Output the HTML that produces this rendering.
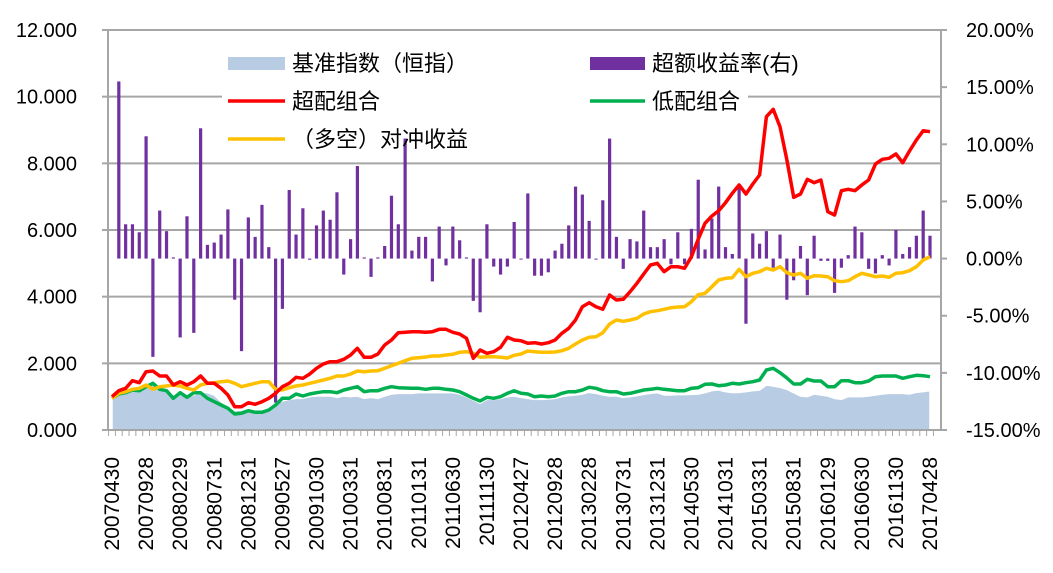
<!DOCTYPE html>
<html><head><meta charset="utf-8">
<style>
html,body{margin:0;padding:0;background:#fff;}
svg{display:block;font-family:"Liberation Sans","Noto Sans CJK SC",sans-serif;}
</style></head>
<body>
<svg id="chart" width="1053" height="573" viewBox="0 0 1053 573" xmlns="http://www.w3.org/2000/svg">
<g id="grid"></g>
<rect x="222" y="44" width="526" height="112" fill="#fff"/>
<g id="area"></g>
<g id="bars"></g>
<g id="lines"></g>
<g id="axes"></g>
<g id="legend">
  <rect x="228" y="57" width="57" height="13" fill="#b8cce4"/>
  <text x="292" y="71" font-size="22" fill="#000">基准指数（恒指）</text>
  <rect x="590" y="57" width="55" height="13" fill="#7030a0"/>
  <text x="652" y="71" font-size="22" fill="#000">超额收益率(右)</text>
  <line x1="228" y1="101" x2="285" y2="101" stroke="#ff0000" stroke-width="3.5"/>
  <text x="292" y="109" font-size="22" fill="#000">超配组合</text>
  <line x1="590" y1="101" x2="645" y2="101" stroke="#00b050" stroke-width="3.5"/>
  <text x="652" y="109" font-size="22" fill="#000">低配组合</text>
  <line x1="228" y1="139" x2="285" y2="139" stroke="#ffc000" stroke-width="3.5"/>
  <text x="292" y="147" font-size="22" fill="#000">（多空）对冲收益</text>
</g>
</svg>
<script>
const xLabels=["20070430","20070928","20080229","20080731","20081231","20090527","20091030","20100331","20100831","20110131","20110630","20111130","20120427","20120928","20130228","20130731","20131231","20140530","20141031","20150331","20150831","20160129","20160630","20161130","20170428"];
const leftTicks=["0.000","2.000","4.000","6.000","8.000","10.000","12.000"];
const rightTicks=["-15.00%","-10.00%","-5.00%","0.00%","5.00%","10.00%","15.00%","20.00%"];
const baseIndex=[0.95,1.05,1.12,1.18,1.18,1.35,1.48,1.25,1.22,1.05,1.12,1.02,1.05,1.15,1.12,1.05,0.85,0.70,0.58,0.60,0.65,0.60,0.60,0.65,0.80,0.87,0.92,0.95,0.95,1.0,1.02,1.02,1.02,0.98,1.02,1.0,1.02,0.95,0.98,
0.95,1.02,1.08,1.10,1.10,1.10,1.12,1.12,1.12,1.12,1.12,1.12,1.08,1.00,0.90,0.80,0.92,0.92,0.95,1.00,1.02,0.98,0.95,0.92,0.92,0.93,0.95,1.00,1.03,1.05,1.08,1.13,1.10,1.05,1.02,1.02,0.98,1.00,1.03,1.07,1.10,1.12,
1.05,1.05,1.06,1.06,1.07,1.08,1.12,1.18,1.20,1.15,1.12,1.13,1.15,1.18,1.20,1.35,1.32,1.28,1.22,1.12,1.02,1.00,1.08,1.05,1.02,0.95,0.92,1.00,1.00,1.00,1.02,1.05,1.08,1.10,1.10,1.10,1.08,1.13,1.15,1.18];
const overWeight=[1.00,1.18,1.25,1.48,1.42,1.75,1.77,1.62,1.62,1.35,1.45,1.35,1.45,1.62,1.40,1.40,1.25,1.05,0.70,0.70,0.82,0.77,0.85,0.95,1.10,1.30,1.40,1.58,1.55,1.68,1.85,1.98,2.05,2.05,2.12,2.25,2.45,2.18,2.18,
2.28,2.55,2.70,2.92,2.93,2.95,2.95,2.93,2.95,3.02,3.02,2.93,2.88,2.75,2.15,2.40,2.30,2.35,2.48,2.78,2.70,2.68,2.60,2.62,2.58,2.62,2.70,2.90,3.05,3.30,3.70,3.82,3.70,3.62,4.05,3.90,3.92,4.15,4.40,4.68,4.95,5.00,
4.75,4.90,4.90,4.85,5.20,5.72,6.20,6.42,6.58,6.82,7.10,7.35,7.08,7.38,7.65,9.40,9.62,9.10,8.10,6.98,7.08,7.52,7.42,7.50,6.55,6.45,7.18,7.22,7.18,7.35,7.50,7.98,8.12,8.15,8.28,8.02,8.37,8.70,8.98,8.95];
const underWeight=[0.95,1.08,1.12,1.20,1.18,1.30,1.40,1.22,1.18,0.95,1.12,0.98,1.12,1.12,0.95,0.85,0.75,0.65,0.48,0.50,0.58,0.53,0.53,0.60,0.75,0.95,0.95,1.08,1.02,1.08,1.12,1.15,1.15,1.12,1.20,1.25,1.30,1.15,1.18,
1.18,1.25,1.30,1.27,1.26,1.25,1.25,1.22,1.25,1.25,1.22,1.20,1.15,1.05,0.95,0.87,0.98,0.95,1.0,1.10,1.18,1.10,1.08,1.0,1.02,1.0,1.02,1.10,1.15,1.15,1.20,1.28,1.25,1.18,1.15,1.15,1.08,1.10,1.15,1.20,1.22,1.25,
1.22,1.20,1.18,1.18,1.25,1.27,1.37,1.38,1.33,1.35,1.40,1.38,1.42,1.45,1.50,1.80,1.85,1.72,1.56,1.38,1.38,1.52,1.47,1.47,1.30,1.30,1.48,1.48,1.42,1.42,1.47,1.60,1.62,1.62,1.62,1.55,1.60,1.64,1.63,1.60];
const hedge=[0.95,1.10,1.15,1.22,1.25,1.35,1.22,1.30,1.32,1.35,1.32,1.25,1.20,1.35,1.40,1.42,1.45,1.47,1.40,1.30,1.35,1.40,1.45,1.45,1.22,1.20,1.27,1.32,1.35,1.40,1.45,1.50,1.55,1.62,1.62,1.68,1.77,1.75,1.77,
1.78,1.85,1.93,2.00,2.08,2.15,2.17,2.19,2.22,2.22,2.25,2.27,2.33,2.35,2.30,2.18,2.20,2.20,2.18,2.16,2.24,2.28,2.37,2.35,2.33,2.33,2.34,2.38,2.45,2.58,2.70,2.78,2.80,2.92,3.18,3.30,3.26,3.30,3.35,3.48,3.55,3.58,
3.62,3.67,3.69,3.70,3.85,4.06,4.10,4.30,4.50,4.55,4.57,4.82,4.60,4.70,4.75,4.85,4.80,4.90,4.72,4.65,4.70,4.55,4.63,4.62,4.60,4.48,4.45,4.48,4.60,4.70,4.65,4.60,4.62,4.58,4.70,4.72,4.78,4.90,5.10,5.20];
const excess=[null,15.5,3.0,3.0,2.3,10.7,-8.6,4.2,2.4,0.1,-6.9,3.7,-6.5,11.4,1.2,1.4,2.1,4.3,-3.6,-8.1,3.6,1.9,4.7,1.0,-12.6,-4.4,6.0,2.1,4.4,-0.1,2.9,4.2,3.4,5.8,-1.4,1.7,8.1,0.1,-1.6,0.1,1.1,5.5,
3.0,10.5,0.7,1.9,1.9,-2.0,2.8,-0.6,2.8,1.6,0.1,-3.7,-4.7,3.0,-0.7,-1.4,-0.7,3.2,0,5.7,-1.5,-1.5,-1.2,0.7,1.3,2.9,6.3,5.6,3.3,0,5.1,10.5,1.9,-0.9,1.7,1.5,4.2,1.0,1.0,1.7,
-0.5,2.3,-0.5,2.6,6.9,0.8,3.5,6.3,1.0,0.4,6.5,-5.7,2.2,1.3,2.4,-0.8,2.1,-3.6,-1.9,1.1,-3.2,2.0,-0.2,-0.2,-3.0,-0.8,0.3,2.8,2.3,-0.9,-1.3,0.3,-0.6,2.5,0.4,1.0,2.0,4.2,2.0];

const NS="http://www.w3.org/2000/svg";
const X0=112, X1=930, YT=30, YB=430, PL=108, PR=941;
const n=overWeight.length;
function xPos(i){return X0+(X1-X0)*i/(n-1);}
function yL(v){return YB-(v-0)/(12-0)*(YB-YT);}
function yR(p){return YB-(p+15)/(35)*(YB-YT);}
function mk(tag,attrs,parent){const e=document.createElementNS(NS,tag);for(const k in attrs)e.setAttribute(k,attrs[k]);parent.appendChild(e);return e;}

const grid=document.getElementById('grid');
leftTicks.forEach((t,k)=>{
  const y=yL(k*2);
  const g=mk('line',{x1:PL,x2:PR,y1:y,y2:y,stroke:'#a6a6a6','stroke-width':2},grid);
  
  
});

const area=document.getElementById('area');
let d='M'+xPos(0)+','+YB;
baseIndex.forEach((v,i)=>{d+=' L'+xPos(i)+','+yL(v);});
d+=' L'+xPos(baseIndex.length-1)+','+YB+' Z';
const ap=mk('path',{d:d,fill:'#b8cce4',stroke:'#fff','stroke-width':1.5},area);



const bars=document.getElementById('bars');
const y0=yR(0);
excess.forEach((v,i)=>{
  if(v===null)return;
  const y=yR(v);
  const r=mk('rect',{x:xPos(i)-1.6,y:Math.min(y,y0),width:3.2,height:Math.max(Math.abs(y-y0),1),fill:'#7030a0'},bars);
  
  
});

const lines=document.getElementById('lines');
[[underWeight,'#00b050','underweight-line'],[hedge,'#ffc000','hedge-line'],[overWeight,'#ff0000','overweight-line']].forEach(s=>{
  const pts=s[0].map((v,i)=>xPos(i).toFixed(1)+','+yL(v).toFixed(1)).join(' ');
  const pl=mk('polyline',{points:pts,fill:'none',stroke:s[1],'stroke-width':3.5,'stroke-linejoin':'round'},lines);
  
  
});

const axes=document.getElementById('axes');
const la=mk('line',{x1:PL,x2:PL,y1:YT,y2:YB,stroke:'#a6a6a6','stroke-width':2},axes);


const ra=mk('line',{x1:PR,x2:PR,y1:YT,y2:YB,stroke:'#a6a6a6','stroke-width':2},axes);


const ba=mk('line',{x1:PL,x2:PR,y1:YB,y2:YB,stroke:'#a6a6a6','stroke-width':2},axes);


for(let i=0;i<=n;i++){
  const x=X0+(X1-X0)*(i-0.5)/(n-1);
  if(x<PL||x>PR)continue;
  const t=mk('line',{x1:x,x2:x,y1:YB,y2:YB+6,stroke:'#a6a6a6','stroke-width':1},axes);
  
  
}
leftTicks.forEach((t,k)=>{
  const y=yL(k*2);
  const tk=mk('line',{x1:PL-6,x2:PL,y1:y,y2:y,stroke:'#a6a6a6','stroke-width':2},axes);
  
  
  const tx=mk('text',{x:77,y:y+7,'text-anchor':'end','font-size':20,fill:'#000'},axes);
  tx.textContent=t;
  
  
});
rightTicks.forEach((t,k)=>{
  const y=yR(-15+k*5);
  const tk=mk('line',{x1:PR,x2:PR+6,y1:y,y2:y,stroke:'#a6a6a6','stroke-width':2},axes);
  
  
  const tx=mk('text',{x:966,y:y+7,'text-anchor':'start','font-size':20,fill:'#000'},axes);
  tx.textContent=t;
  
  
});
xLabels.forEach((t,k)=>{
  const x=xPos(k*5)+7;
  const tx=mk('text',{x:0,y:0,transform:'translate('+x+',457) rotate(-90)','text-anchor':'end','font-size':21,fill:'#000'},axes);
  tx.textContent=t;
  
  
});
</script>
</body></html>
